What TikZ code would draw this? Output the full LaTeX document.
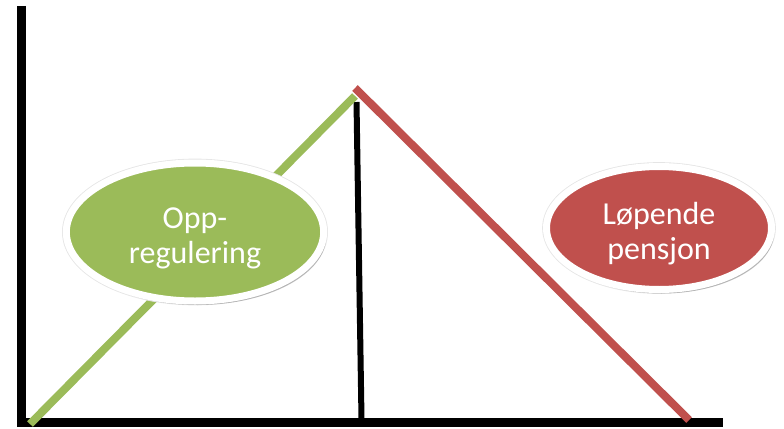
\documentclass[tikz,border=0pt]{standalone}
\usepackage{fontspec}
\setmainfont{Carlito}
\usetikzlibrary{shapes.geometric,shadows,calc}
\definecolor{oppgreen}{HTML}{9BBB59}
\definecolor{pensred}{HTML}{C0504D}
\tikzset{
    axis/.style={line width=6.5pt, black},
    divider/.style={line width=4.5pt, black},
    rise/.style={line width=6pt, oppgreen},
    fall/.style={line width=6pt, pensred},
    blob/.style={ellipse, draw=white, line width=5.25pt, inner sep=0pt,
                 text=white, align=center, text depth=0pt,
                 font=\fontsize{24}{26.25}\selectfont,
                 preaction={draw=black!10, line width=6.5pt},
                 drop shadow={shadow xshift=2pt, shadow yshift=-3pt, opacity=0.22, fill=black}},
}
\newcommand{\lift}{\rule{0pt}{21pt}}

\begin{document}
\begin{tikzpicture}[x=0.75pt, y=-0.75pt]
    \useasboundingbox (0,0) rectangle (784,428);

    % Corner points
    \coordinate (ytop) at (21.5,6);
    \coordinate (origin) at (21.5,422.5);
    \coordinate (xend) at (723,422.5);
    \coordinate (risebot) at (30,424);
    \coordinate (peak) at (355,96);
    \coordinate (fallbot) at (689,420);
    \coordinate (divtop) at (356.5,102);
    \coordinate (divbot) at (361.5,419);

    % Axes
    \draw[axis] (ytop) -- ($(origin)+(0,4.5)$);
    \draw[axis] ($(origin)+(-4.5,0)$) -- (xend);

    % Lines
    \draw[divider] (divtop) -- (divbot);
    \draw[rise] (risebot) -- (peak);
    \draw[fall] ($(peak)+(0,-8)$) -- (fallbot);

    % Labels
    \node[blob, fill=oppgreen, minimum width=193pt, minimum height=103.5pt] (opp) at (195,232) {\lift Opp-\\regulering};
    \node[blob, fill=pensred, minimum width=168.75pt, minimum height=92.25pt] (pens) at (659,228) {\lift Løpende\\pensjon};
\end{tikzpicture}
\end{document}
